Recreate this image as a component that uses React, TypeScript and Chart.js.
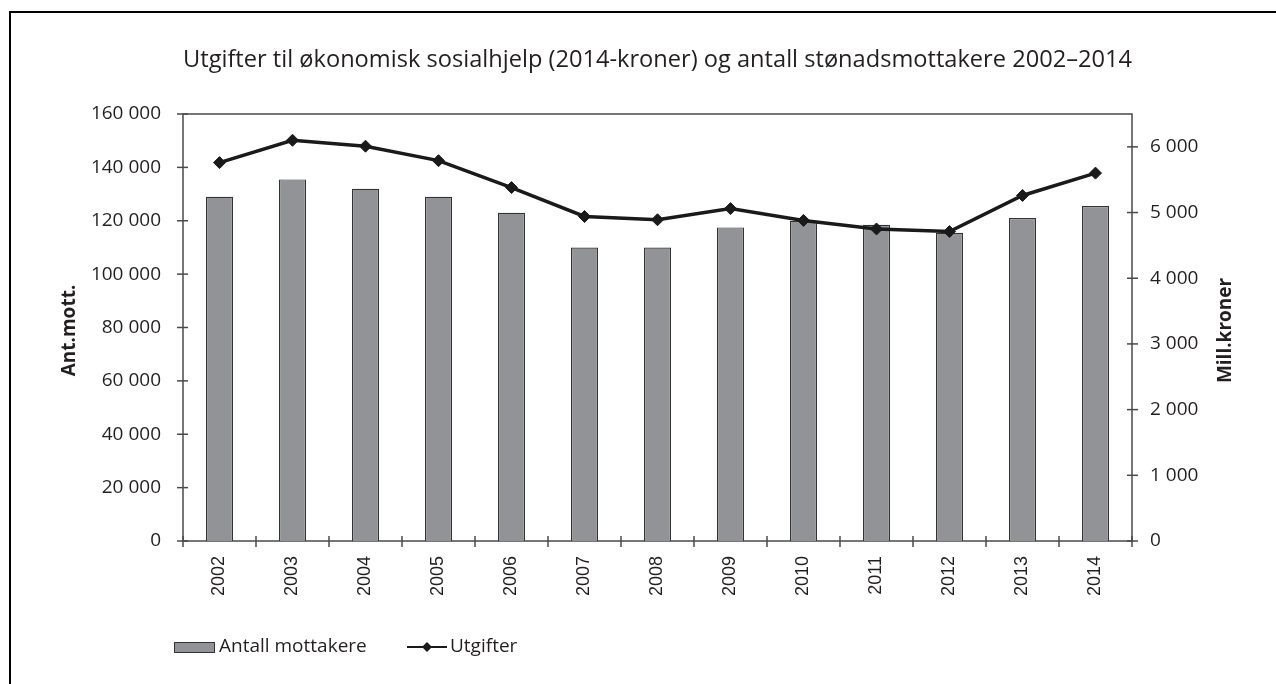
import React, { useEffect, useRef } from 'react';
import { Chart, registerables } from 'chart.js';

Chart.register(...registerables);

// ---- Data ----
const years: string[] = ['2002', '2003', '2004', '2005', '2006', '2007', '2008', '2009', '2010', '2011', '2012', '2013', '2014'];
const antallMottakere: number[] = [129000, 135500, 132000, 129000, 123000, 110000, 110000, 117500, 120000, 118500, 115500, 121000, 125500];
const utgifter: number[] = [5760, 6100, 6010, 5790, 5380, 4940, 4890, 5060, 4880, 4750, 4710, 5260, 5600];

const leftMax = 160000;
const leftStep = 20000;
const rightMax = 6500;
const rightTickValues: number[] = [0, 1000, 2000, 3000, 4000, 5000, 6000];

const chartTitle = 'Utgifter til økonomisk sosialhjelp (2014-kroner) og antall stønadsmottakere 2002–2014';
const leftAxisTitle = 'Ant.mott.';
const rightAxisTitle = 'Mill.kroner';
const barLabel = 'Antall mottakere';
const lineLabel = 'Utgifter';

const TEXT = '#231f20';
const AXIS = '#4a4a4a';
const BAR_FILL = '#929396';
const BAR_EDGE = '#333333';
const LINE = '#1a1a1a';
const FONT = "'Open Sans', sans-serif";

const fmt = (n: number) => String(n).replace(/\B(?=(\d{3})+(?!\d))/g, ' ');

const decorPlugin = {
  id: 'decor',
  beforeDatasetsDraw(chart: any) {
    const { ctx, chartArea } = chart;
    const { left, right, top, bottom } = chartArea;
    ctx.save();
    ctx.strokeStyle = AXIS;
    ctx.lineWidth = 1.5;
    ctx.strokeRect(left, top, right - left, bottom - top);
    const ys = chart.scales.y;
    ys.ticks.forEach((t: any) => {
      const py = ys.getPixelForValue(t.value);
      ctx.beginPath();
      ctx.moveTo(left - 6, py);
      ctx.lineTo(left + 5, py);
      ctx.stroke();
    });
    const yr = chart.scales.y1;
    yr.ticks.forEach((t: any) => {
      const py = yr.getPixelForValue(t.value);
      ctx.beginPath();
      ctx.moveTo(right - 5, py);
      ctx.lineTo(right + 6, py);
      ctx.stroke();
    });
    const n = years.length;
    for (let i = 0; i <= n; i++) {
      const px = left + (i * (right - left)) / n;
      ctx.beginPath();
      ctx.moveTo(px, bottom - 5);
      ctx.lineTo(px, bottom + 6);
      ctx.stroke();
    }
    ctx.restore();
  },
  afterDraw(chart: any) {
    const { ctx, chartArea } = chart;
    const { left, right, top, bottom } = chartArea;
    const midY = (top + bottom) / 2 + 3;
    ctx.save();
    ctx.fillStyle = TEXT;
    ctx.font = `bold 19px ${FONT}`;
    ctx.textAlign = 'center';
    ctx.textBaseline = 'middle';
    ctx.save();
    ctx.translate(left - 113, midY);
    ctx.rotate(-Math.PI / 2);
    ctx.fillText(leftAxisTitle, 0, 0);
    ctx.restore();
    ctx.save();
    ctx.translate(right + 94, midY);
    ctx.rotate(-Math.PI / 2);
    ctx.fillText(rightAxisTitle, 0, 0);
    ctx.restore();

    // legend
    const ly = 647;
    const bx = left - 9;
    ctx.fillStyle = BAR_FILL;
    ctx.fillRect(bx, ly - 5, 40, 10);
    ctx.strokeStyle = BAR_EDGE;
    ctx.lineWidth = 1;
    ctx.strokeRect(bx + 0.5, ly - 5 + 0.5, 40, 10);
    ctx.fillStyle = TEXT;
    ctx.font = `19px ${FONT}`;
    ctx.textAlign = 'left';
    ctx.fillText(barLabel, bx + 45, ly);
    const lx = bx + 233;
    ctx.strokeStyle = LINE;
    ctx.lineWidth = 2;
    ctx.beginPath();
    ctx.moveTo(lx, ly);
    ctx.lineTo(lx + 40, ly);
    ctx.stroke();
    ctx.fillStyle = LINE;
    ctx.beginPath();
    ctx.moveTo(lx + 20, ly - 5);
    ctx.lineTo(lx + 25, ly);
    ctx.lineTo(lx + 20, ly + 5);
    ctx.lineTo(lx + 15, ly);
    ctx.closePath();
    ctx.fill();
    ctx.fillStyle = TEXT;
    ctx.fillText(lineLabel, lx + 43, ly);
    ctx.restore();
  },
};

export default function App() {
  const ref = useRef<HTMLCanvasElement | null>(null);
  useEffect(() => {
    if (!ref.current) return;
    const chart = new Chart(ref.current, {
      type: 'bar',
      data: {
        labels: years,
        datasets: [
          {
            type: 'line',
            label: lineLabel,
            data: utgifter,
            yAxisID: 'y1',
            borderColor: LINE,
            backgroundColor: LINE,
            borderWidth: 3.5,
            pointStyle: 'rectRot',
            pointRadius: 6,
            pointBorderWidth: 1,
            pointBackgroundColor: LINE,
            pointBorderColor: LINE,
            tension: 0,
            order: 1,
          } as any,
          {
            type: 'bar',
            label: barLabel,
            data: antallMottakere,
            yAxisID: 'y',
            backgroundColor: BAR_FILL,
            borderColor: BAR_EDGE,
            borderWidth: 1.2,
            barPercentage: 0.37,
            categoryPercentage: 1,
            order: 2,
          } as any,
        ],
      },
      options: {
        responsive: false,
        devicePixelRatio: 1,
        animation: false,
        layout: { padding: { left: 0, right: 0, top: 0, bottom: 0 } },
        plugins: {
          legend: { display: false },
          tooltip: { enabled: false },
          title: {
            display: true,
            fullSize: false,
            text: chartTitle,
            color: TEXT,
            font: { family: FONT, size: 24, weight: 'normal' },
            padding: { top: 46, bottom: 39.2 },
          },
        },
        scales: {
          x: {
            type: 'category',
            offset: true,
            grid: { display: false, drawTicks: false, offset: true },
            border: { display: false },
            ticks: {
              minRotation: 90,
              maxRotation: 90,
              autoSkip: false,
              padding: 15,
              color: TEXT,
              font: { family: "'Liberation Sans', Arial, sans-serif", size: 18 },
            },
            afterFit: (s: any) => {
              s.height = 143;
            },
          },
          y: {
            type: 'linear',
            position: 'left',
            min: 0,
            max: leftMax,
            grid: { display: false, drawTicks: false },
            border: { display: false },
            ticks: {
              stepSize: leftStep,
              padding: 22,
              color: TEXT,
              font: { family: FONT, size: 19 },
              callback: (v: any) => fmt(Number(v)),
            },
            afterFit: (s: any) => {
              s.width = 183;
            },
          },
          y1: {
            type: 'linear',
            position: 'right',
            min: 0,
            max: rightMax,
            grid: { display: false, drawTicks: false },
            border: { display: false },
            ticks: {
              padding: 18,
              color: TEXT,
              font: { family: FONT, size: 19 },
              callback: (v: any) => fmt(Number(v)),
            },
            afterBuildTicks: (s: any) => {
              s.ticks = rightTickValues.map((v) => ({ value: v }));
            },
            afterFit: (s: any) => {
              s.width = 144;
            },
          },
        },
      } as any,
      plugins: [decorPlugin],
    });
    return () => chart.destroy();
  }, []);

  return (
    <div style={{ position: 'fixed', left: 0, top: 0, width: 1276, height: 684, overflow: 'hidden', background: '#fff' }}>
      <div
        style={{
          position: 'absolute',
          left: 9,
          top: 11,
          width: 1300,
          height: 720,
          border: '2px solid #000',
          boxSizing: 'border-box',
        }}
      />
      <canvas ref={ref} width={1276} height={684} style={{ position: 'absolute', left: 0, top: 0, width: 1276, height: 684 }} />
    </div>
  );
}
